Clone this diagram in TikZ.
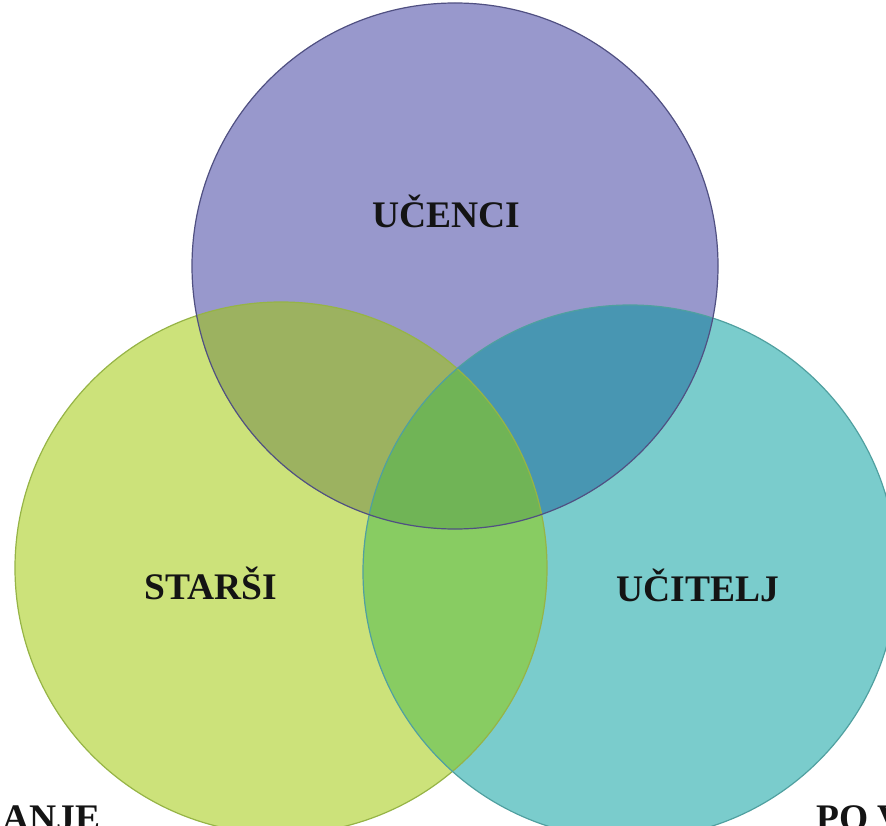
\documentclass[tikz,border=0pt]{standalone}
\usepackage{fontspec}
\setmainfont{Liberation Serif}
\definecolor{cP}{RGB}{152,152,204}
\definecolor{cL}{RGB}{204,226,122}
\definecolor{cR}{RGB}{122,204,204}
\definecolor{cPL}{RGB}{156,178,96}
\definecolor{cPR}{RGB}{72,150,178}
\definecolor{cLR}{RGB}{136,204,98}
\definecolor{cPLR}{RGB}{112,180,86}
\definecolor{eP}{RGB}{80,80,130}
\definecolor{eL}{RGB}{150,180,70}
\definecolor{eR}{RGB}{80,160,160}
\begin{document}
\begin{tikzpicture}[x=1pt,y=-1pt,
  lbl/.style={font=\fontsize{37.5}{40}\selectfont\bfseries, text=black!92, inner sep=0pt},
  edge/.style={line width=1.2pt}]
\useasboundingbox (0,0) rectangle (886,826);
\clip (0,0) rectangle (886,826);
\fill[white] (0,0) rectangle (886,826);
\def\circP{(455,266) circle[radius=263pt]}
\def\circL{(281,568) circle[radius=266pt]}
\def\circR{(630,572) circle[radius=267pt]}
\fill[cP] \circP;
\fill[cL] \circL;
\fill[cR] \circR;
\begin{scope}
  \clip \circP;
  \fill[cPL] \circL;
  \fill[cPR] \circR;
\end{scope}
\begin{scope}
  \clip \circL;
  \fill[cLR] \circR;
  \clip \circR;
  \fill[cPLR] \circP;
\end{scope}
\draw[edge, eL] \circL;
\draw[edge, eR] \circR;
\draw[edge, eP] \circP;
\node[lbl] (ucenci) at (446,211) {UČENCI};
\node[lbl] (starsi) at (211,583) {STARŠI};
\node[lbl] (ucitelj) at (698,585) {UČITELJ};
\node[lbl, anchor=base west] (anje) at (2,830) {ANJE};
\node[lbl, anchor=base west] (pov) at (816,830) {PO V};
\end{tikzpicture}
\end{document}
